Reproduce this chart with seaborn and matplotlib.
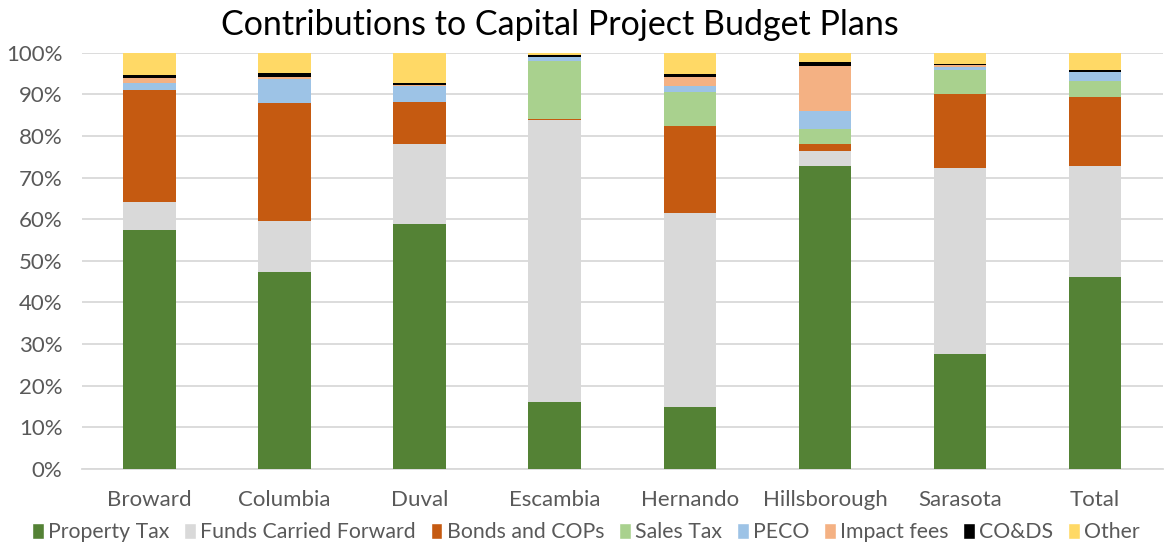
import numpy as np
import pandas as pd
import seaborn as sns
import matplotlib.pyplot as plt
from matplotlib.patches import Patch

districts = ['Broward', 'Columbia', 'Duval', 'Escambia', 'Hernando',
             'Hillsborough', 'Sarasota', 'Total']

# share of each source, percent
property_tax = [57.5, 47.2, 58.9, 16.1, 14.9, 72.9, 27.6, 46.2]
funds_forward = [6.7, 12.4, 19.2, 67.8, 46.6, 3.4, 44.8, 26.6]
bonds_cops = [26.8, 28.4, 10.2, 0.2, 20.8, 1.8, 17.7, 16.5]
sales_tax = [0.0, 0.0, 0.0, 13.9, 8.3, 3.5, 5.7, 3.9]
peco = [1.8, 5.7, 3.8, 1.1, 1.5, 4.4, 0.9, 2.2]
impact_fees = [1.2, 0.4, 0.1, 0.0, 2.2, 10.9, 0.5, 0.1]
co_ds = [0.6, 1.0, 0.5, 0.3, 0.7, 0.8, 0.2, 0.3]
other = [5.4, 4.9, 7.3, 0.6, 5.0, 2.3, 2.6, 4.2]

series = {
    'Property Tax': property_tax,
    'Funds Carried Forward': funds_forward,
    'Bonds and COPs': bonds_cops,
    'Sales Tax': sales_tax,
    'PECO': peco,
    'Impact fees': impact_fees,
    'CO&DS': co_ds,
    'Other': other,
}
colors = ['#548235', '#d9d9d9', '#c55a11', '#a9d18e', '#9dc3e6',
          '#f4b183', '#000000', '#ffd966']

sns.set_theme(style='white')
plt.rcParams['font.family'] = ['Lato', 'DejaVu Sans']

fig, ax = plt.subplots(figsize=(11.72, 5.45), dpi=100)
fig.subplots_adjust(left=0.07, right=0.992, top=0.903, bottom=0.14)

bottom = np.zeros(len(districts))
for (name, vals), c in zip(series.items(), colors):
    vals = np.array(vals, dtype=float)
    sns.barplot(x=districts, y=vals, bottom=bottom, color=c, width=0.39,
                saturation=1, linewidth=0, ax=ax, zorder=3)
    bottom += vals

ax.set_ylim(0, 100)
ax.set_xlim(-0.5, len(districts) - 0.5)
ax.set_yticks(np.arange(0, 101, 10))
ax.set_yticklabels([f'{v}%' for v in range(0, 101, 10)])
ax.yaxis.grid(True, color='#d9d9d9', linewidth=1.3, zorder=0)
ax.set_axisbelow(True)
for s in ['top', 'right', 'left']:
    ax.spines[s].set_visible(False)
ax.spines['bottom'].set_color('#d9d9d9')
ax.spines['bottom'].set_linewidth(1.3)
ax.tick_params(axis='both', length=0, labelsize=16, colors='#595959')
ax.tick_params(axis='y', pad=14)
ax.tick_params(axis='x', pad=15)

fig.text(0.478, 0.935, 'Contributions to Capital Project Budget Plans',
         fontsize=24.5, color='black', ha='center', va='baseline')

handles = [Patch(facecolor=c, label=n) for n, c in zip(series.keys(), colors)]
fig.legend(handles=handles, loc='lower center', ncol=8, frameon=False,
           fontsize=15.3, handlelength=0.55, handleheight=0.8, handletextpad=0.2,
           columnspacing=0.7, bbox_to_anchor=(0.5, -0.03), labelcolor='#595959')

fig.savefig('out.png', dpi=100)
